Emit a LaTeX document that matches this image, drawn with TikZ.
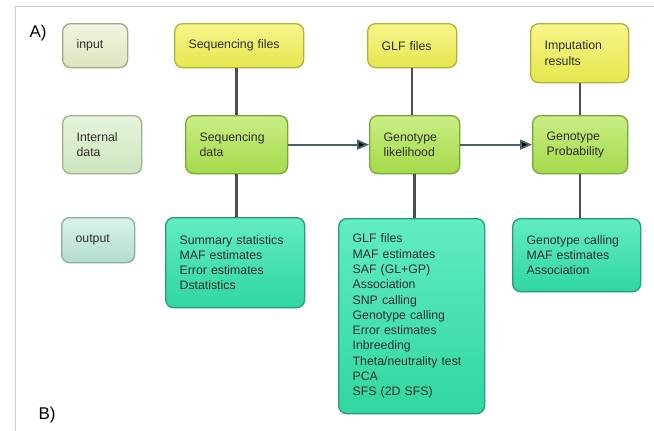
\documentclass[tikz,border=0pt]{standalone}
\usepackage{fontspec}
\setmainfont{Liberation Sans}
\usetikzlibrary{arrows.meta, positioning}

\definecolor{txtgray}{HTML}{2E2E2E}
\definecolor{framegray}{HTML}{CCCCCC}
\definecolor{linkgray}{HTML}{4E4E4E}
\definecolor{arrowgray}{HTML}{4A6068}
% box colours: top, bottom, border
\definecolor{intop}{HTML}{F4F5E2}   \definecolor{inbot}{HTML}{E0E2C0}   \definecolor{inline}{HTML}{A3A888}
\definecolor{filetop}{HTML}{F6F68C} \definecolor{filebot}{HTML}{E6E64E} \definecolor{fileline}{HTML}{B2B23A}
\definecolor{midtop}{HTML}{E6F4DC}  \definecolor{midbot}{HTML}{CDE5BE}  \definecolor{midline}{HTML}{98B58A}
\definecolor{datatop}{HTML}{CAEE84} \definecolor{databot}{HTML}{A4DA4A} \definecolor{dataline}{HTML}{78A838}
\definecolor{outtop}{HTML}{D8F4EA}  \definecolor{outbot}{HTML}{B4DCCE}  \definecolor{outline}{HTML}{88ADA4}
\definecolor{restop}{HTML}{62ECC4}  \definecolor{resbot}{HTML}{30D6A2}  \definecolor{resline}{HTML}{2A9A7A}

\tikzset{
  box/.style = {rectangle, rounded corners=8pt, line width=1.3pt, align=left,
    inner xsep=14pt, inner ysep=0pt, anchor=north west, text=txtgray,
    font=\fontsize{12.3}{15.3}\selectfont},
  inlabel/.style  = {box, draw=inline, top color=intop, bottom color=inbot},
  inbox/.style    = {box, draw=fileline, top color=filetop, bottom color=filebot},
  midlabel/.style = {box, draw=midline, top color=midtop, bottom color=midbot},
  midbox/.style   = {box, draw=dataline, top color=datatop, bottom color=databot},
  outlabel/.style = {box, draw=outline, top color=outtop, bottom color=outbot},
  outbox/.style   = {box, draw=resline, top color=restop, bottom color=resbot},
  link/.style     = {draw=linkgray, line width=2.4pt},
  flow/.style     = {draw=arrowgray, line width=1.8pt, -{Triangle[length=12pt, width=10pt]}}
}

\begin{document}
\begin{tikzpicture}[x=1pt, y=-1pt]
  \useasboundingbox (0,0) rectangle (654,431);
  \draw[framegray, line width=1pt] (15,431) -- (15,6) -- (654,6);

  \node[font=\fontsize{17}{17}\selectfont, anchor=west] (A) at (26,33) {A)};
  \node[font=\fontsize{17}{17}\selectfont, anchor=west] (B) at (35,415) {B)};

  % row labels
  \node[inlabel, text width=37pt, minimum height=44pt] (input) at (62,23) {input};
  \node[midlabel, text width=51pt, minimum height=58pt] (internal) at (62,115) {Internal\\data};
  \node[outlabel, text width=45pt, minimum height=45pt] (output) at (61,217) {output};

  % inputs
  \node[inbox, text width=101pt, minimum height=44pt] (seqfiles) at (174,23) {Sequencing files};
  \node[inbox, text width=61pt, minimum height=44pt] (glffiles) at (367,23) {GLF files};
  \node[inbox, text width=70pt, minimum height=59pt] (imputation) at (530,23) {Imputation\\results};

  % internal data
  \node[midbox, text width=74pt, minimum height=58pt] (seqdata) at (185,115) {Sequencing\\data};
  \node[midbox, text width=62pt, minimum height=58pt] (likelihood) at (369,115) {Genotype\\likelihood};
  \node[midbox, text width=67pt, minimum height=58pt] (probability) at (532,115) {Genotype\\Probability};

  % outputs
  \node[outbox, text width=111pt, minimum height=90pt] (seqout) at (165,217)
    {Summary statistics\\MAF estimates\\Error estimates\\Dstatistics};
  \node[outbox, text width=118pt, minimum height=195pt] (glout) at (338,218)
    {GLF files\\MAF estimates\\SAF (GL+GP)\\Association\\SNP calling\\Genotype calling\\Error estimates\\Inbreeding\\Theta/neutrality test\\PCA\\SFS (2D SFS)};
  \node[outbox, text width=100pt, minimum height=73pt] (gpout) at (512,218)
    {Genotype calling\\MAF estimates\\Association};

  \path[link]
    (seqdata.north) -- (seqdata.north |- seqfiles.south)
    (seqdata.south) -- (seqdata.south |- seqout.north)
    (glffiles.south) -- (glffiles.south |- likelihood.north)
    (likelihood.south) -- (likelihood.south |- glout.north)
    (probability.north) -- (probability.north |- imputation.south)
    (probability.south) -- (probability.south |- gpout.north);
  \path[flow]
    (seqdata) edge (likelihood)
    (likelihood) edge (probability);
\end{tikzpicture}
\end{document}
